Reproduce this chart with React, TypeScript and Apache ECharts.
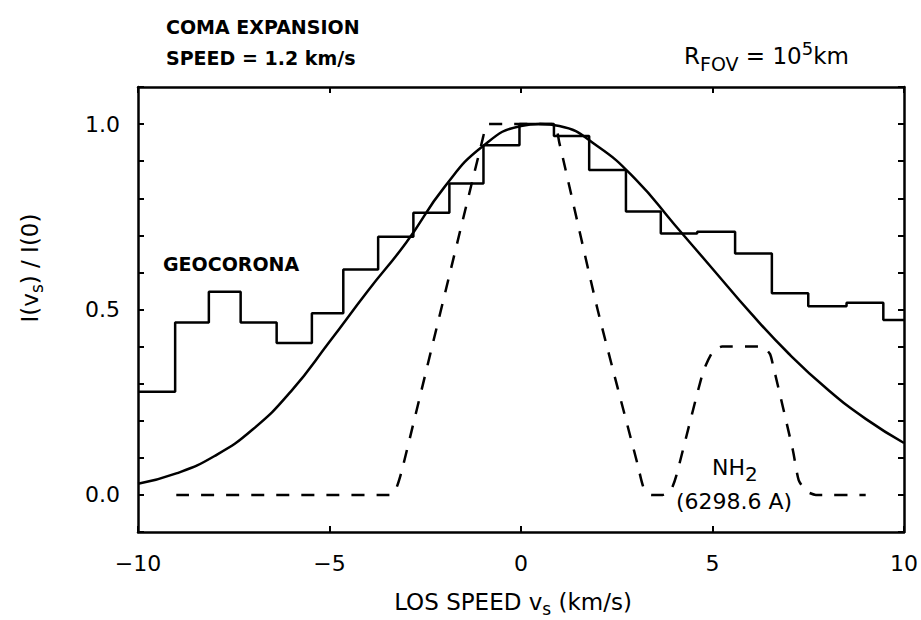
import React, { useEffect, useRef } from 'react';
import * as echarts from 'echarts';

// Smooth model curve (solid)
const solidX = [-10, -9, -8, -7, -6, -5, -4, -3, -2, -1, 0, 0.5, 1, 2, 3, 4, 5, 6, 7, 8, 9, 10];
const solidY = [0.03, 0.058, 0.105, 0.177, 0.28, 0.413, 0.55, 0.68, 0.83, 0.94, 0.995, 1.0, 0.995, 0.94, 0.85, 0.73, 0.61, 0.49, 0.38, 0.285, 0.205, 0.14];

// Geocorona histogram: left bin edges and bin values
const geoEdges = [-10, -9.03, -8.15, -7.32, -6.38, -5.46, -4.64, -3.73, -2.81, -1.87, -0.98, -0.04, 0.86, 1.78, 2.74, 3.65, 4.6, 5.59, 6.55, 7.5, 8.5, 9.46];
const geoValues = [0.278, 0.465, 0.548, 0.465, 0.41, 0.49, 0.608, 0.696, 0.761, 0.84, 0.943, 1.0, 0.968, 0.876, 0.764, 0.705, 0.71, 0.651, 0.544, 0.509, 0.518, 0.472];
const geoEnd = 10;

// NH2 (6298.6 A) profile (dashed)
const nh2X = [-9.0, -3.42, -3.25, -3.1, -1.0, -0.85, 0.85, 1.0, 2.0, 3.05, 3.2, 3.4, 3.7, 3.9, 4.05, 4.75, 5.0, 5.25, 6.3, 6.5, 6.58, 7.1, 7.25, 7.45, 7.7, 9.0];
const nh2Y = [0, 0, 0.02, 0.07, 0.96, 1.0, 1.0, 0.95, 0.5, 0.08, 0.02, 0, 0, 0.01, 0.05, 0.33, 0.385, 0.4, 0.4, 0.38, 0.35, 0.12, 0.04, 0.01, 0, 0];

const yLabelValues = [0, 0.5, 1.0];

const FONT = "'DejaVu Sans', 'Liberation Sans', sans-serif";

export default function App() {
  const ref = useRef<HTMLDivElement>(null);
  useEffect(() => {
    const chart = echarts.init(ref.current!, null, { renderer: 'svg' });
    const solidData = solidX.map((x, i) => [x, solidY[i]]);
    const geoData = geoEdges.map((x, i) => [x, geoValues[i]]);
    geoData.push([geoEnd, geoValues[geoValues.length - 1]]);
    const nh2Data = nh2X.map((x, i) => [x, nh2Y[i]]);

    const axisLine = { show: true, onZero: false, lineStyle: { color: '#000', width: 2.5 } };
    const tick = { show: true, inside: true, length: 6, lineStyle: { color: '#000', width: 2 } };
    const yFmt = (v: number) => {
      const hit = yLabelValues.find((t) => Math.abs(t - v) < 1e-6);
      return hit === undefined ? '' : hit.toFixed(1);
    };

    chart.setOption({
      animation: false,
      backgroundColor: '#fff',
      grid: { left: 138, right: 17, top: 87, bottom: 88, outerBoundsMode: 'none' },
      xAxis: [
        {
          type: 'value', min: -10, max: 10, interval: 5, position: 'bottom',
          axisLine, splitLine: { show: false }, axisTick: tick,
          axisLabel: {
            show: true, margin: 20, color: '#000', fontSize: 22, fontFamily: FONT,
            formatter: (v: number) => (v < 0 ? '\u2212' + Math.abs(v) : String(v)),
          },
        },
        {
          type: 'value', min: -10, max: 10, interval: 5, position: 'top',
          axisLine, splitLine: { show: false }, axisTick: tick,
          axisLabel: { show: false },
        },
      ],
      yAxis: [
        {
          type: 'value', min: -0.1, max: 1.1, interval: 0.1, position: 'left',
          axisLine, splitLine: { show: false }, axisTick: tick,
          axisLabel: { show: true, margin: 18, color: '#000', fontSize: 22, fontFamily: FONT, formatter: yFmt },
        },
        {
          type: 'value', min: -0.1, max: 1.1, interval: 0.1, position: 'right',
          axisLine, splitLine: { show: false }, axisTick: tick,
          axisLabel: { show: false },
        },
      ],
      series: [
        {
          type: 'line', data: solidData, smooth: true, symbol: 'none',
          lineStyle: { color: '#000', width: 2.5 },
        },
        {
          type: 'line', data: geoData, step: 'end', symbol: 'none',
          lineStyle: { color: '#000', width: 2.5 },
        },
        {
          type: 'line', data: nh2Data, smooth: 0.2, symbol: 'none',
          lineStyle: { color: '#000', width: 2.5, type: [13, 12] },
        },
      ],
      graphic: [
        {
          type: 'text', x: 166, y: 27,
          style: { text: 'COMA EXPANSION', fontSize: 19, fontWeight: 'bold', fontFamily: FONT, fill: '#000', align: 'left', verticalAlign: 'middle' },
        },
        {
          type: 'text', x: 166, y: 58,
          style: { text: 'SPEED = 1.2 km/s', fontSize: 19, fontWeight: 'bold', fontFamily: FONT, fill: '#000', align: 'left', verticalAlign: 'middle' },
        },
        {
          type: 'text', x: 684, y: 56,
          style: {
            text: '{a|R}{s|FOV}{a| = 10}{p|5}{a|km}',
            fill: '#000', align: 'left', verticalAlign: 'middle',
            rich: {
              a: { fontSize: 23, fontFamily: FONT, lineHeight: 34, verticalAlign: 'middle', fill: '#000' },
              s: { fontSize: 19, fontFamily: FONT, lineHeight: 19, verticalAlign: 'bottom', fill: '#000' },
              p: { fontSize: 18, fontFamily: FONT, lineHeight: 18, verticalAlign: 'top', fill: '#000' },
            },
          },
        },
        {
          type: 'text', x: 163, y: 264,
          style: { text: 'GEOCORONA', fontSize: 19, fontWeight: 'bold', fontFamily: FONT, fill: '#000', align: 'left', verticalAlign: 'middle' },
        },
        {
          type: 'text', x: 712, y: 467,
          style: {
            text: '{a|NH}{s|2}',
            fill: '#000', align: 'left', verticalAlign: 'middle',
            rich: {
              a: { fontSize: 22, fontFamily: FONT, lineHeight: 34, verticalAlign: 'middle', fill: '#000' },
              s: { fontSize: 20, fontFamily: FONT, lineHeight: 20, verticalAlign: 'bottom', fill: '#000' },
            },
          },
        },
        {
          type: 'text', x: 676, y: 501,
          style: { text: '(6298.6 A)', fontSize: 22, fontFamily: FONT, fill: '#000', align: 'left', verticalAlign: 'middle' },
        },
        {
          type: 'text', x: 513, y: 602,
          style: {
            text: '{a|LOS SPEED v}{s|s}{a| (km/s)}',
            fill: '#000', align: 'center', verticalAlign: 'middle',
            rich: {
              a: { fontSize: 23, fontFamily: FONT, lineHeight: 30, verticalAlign: 'middle', fill: '#000' },
              s: { fontSize: 17, fontFamily: FONT, lineHeight: 17, verticalAlign: 'bottom', fill: '#000' },
            },
          },
        },
        {
          type: 'text', x: 30, y: 268, rotation: Math.PI / 2,
          style: {
            text: '{a|I(v}{s|s}{a|) / I(0)}',
            fill: '#000', align: 'center', verticalAlign: 'middle',
            rich: {
              a: { fontSize: 23, fontFamily: FONT, lineHeight: 30, verticalAlign: 'middle', fill: '#000' },
              s: { fontSize: 17, fontFamily: FONT, lineHeight: 17, verticalAlign: 'bottom', fill: '#000' },
            },
          },
        },
      ],
    });
    return () => chart.dispose();
  }, []);
  return <div ref={ref} style={{ position: 'fixed', left: 0, top: 0, width: 921, height: 620 }} />;
}
